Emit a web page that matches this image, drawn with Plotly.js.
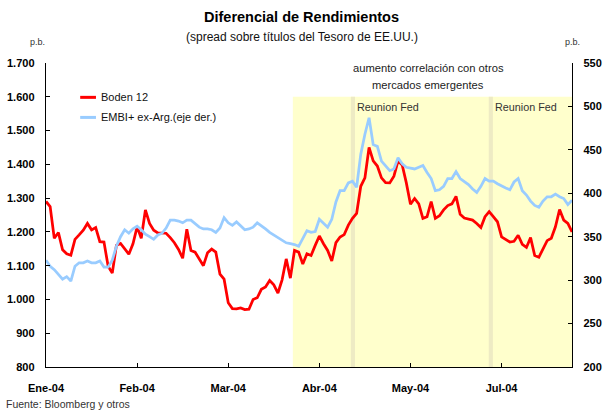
<!DOCTYPE html>
<html>
<head>
<meta charset="utf-8">
<script src="https://cdn.plot.ly/plotly-3.0.1.min.js"></script>
<style>html,body{margin:0;padding:0;background:#fff;}#chart{width:603px;height:412px;}</style>
</head>
<body>
<div id="chart"></div>
<script>
// Boden 12 spread (p.b., left axis), one value per trading day
const boden12 = [1290,1275,1181,1198,1147,1135,1131,1178,1191,1205,
  1225,1206,1213,1171,1170,1098,1078,1160,1166,1150,
  1134,1165,1215,1181,1265,1225,1205,1197,1196,1196,
  1183,1168,1148,1122,1208,1145,1140,1120,1100,1138,
  1149,1140,1075,1060,990,973,972,975,970,971,
  1000,1005,1030,1037,1056,1043,1019,1058,1120,1063,
  1145,1140,1105,1135,1130,1160,1188,1165,1145,1114,
  1168,1185,1192,1220,1240,1255,1335,1360,1450,1410,
  1395,1360,1346,1345,1365,1410,1398,1345,1282,1299,
  1283,1240,1245,1290,1240,1248,1265,1278,1283,1305,
  1252,1241,1238,1235,1225,1213,1245,1260,1245,1230,
  1185,1178,1170,1172,1190,1163,1154,1183,1130,1125,
  1150,1174,1181,1215,1266,1235,1225,1200];
// EMBI+ ex-Argentina spread (p.b., right axis)
const embiExArg = [323,316,312,307,301,304,299,316,320,320,
  322,320,320,322,315,315,323,339,350,358,
  354,359,362,358,353,350,347,352,354,360,
  369,369,368,366,369,369,365,361,359,359,
  358,355,360,372,366,363,367,363,358,359,
  361,366,363,359,355,352,349,345,343,342,
  341,339,349,357,355,356,370,366,361,370,
  390,403,403,412,414,407,445,468,487,456,
  454,437,432,426,428,441,434,430,429,428,
  430,432,424,417,403,404,408,417,417,425,
  417,414,410,405,401,408,417,414,414,411,
  408,406,404,413,417,403,398,391,386,384,
  391,396,396,399,396,394,387,392];
const dayIndex = boden12.map((_, i) => i);
const tickPositions = [0, 22, 44, 66, 88, 110];
const tickLabels = ['Ene-04', 'Feb-04', 'Mar-04', 'Abr-04', 'May-04', 'Jul-04'];
const leftTicks = [800, 900, 1000, 1100, 1200, 1300, 1400, 1500, 1600, 1700];
const rightTicks = [200, 250, 300, 350, 400, 450, 500, 550];
// highlighted period and Fed meeting days (in trading-day index)
const highlightPeriod = [59.6, 127];
const fedMeetings = [74.1, 107.4];
const highlightTop = 1600;

const FONT = 'Liberation Sans, Arial, sans-serif';

const traces = [
  {x: dayIndex, y: boden12, type: 'scatter', mode: 'lines', name: 'Boden 12',
   line: {color: '#FF0000', width: 2.75}, yaxis: 'y', showlegend: false},
  {x: dayIndex, y: embiExArg, type: 'scatter', mode: 'lines', name: 'EMBI+ ex-Arg.(eje der.)',
   line: {color: '#99CCFF', width: 2.75}, yaxis: 'y2', showlegend: false}
];

const shapes = [
  {type: 'rect', xref: 'x', yref: 'y', x0: highlightPeriod[0], x1: highlightPeriod[1], y0: 800, y1: highlightTop,
   fillcolor: '#FFFFCC', line: {width: 0}, layer: 'below'}
];
fedMeetings.forEach(f => shapes.push({type: 'rect', xref: 'x', yref: 'y', x0: f - 0.5, x1: f + 0.5, y0: 800, y1: highlightTop,
  fillcolor: '#EEEBC4', line: {width: 0}, layer: 'below'}));
// legend samples
shapes.push({type: 'line', xref: 'paper', yref: 'paper', x0: 0.065, x1: 0.095, y0: 0.887, y1: 0.887, line: {color: '#FF0000', width: 3}});
shapes.push({type: 'line', xref: 'paper', yref: 'paper', x0: 0.065, x1: 0.095, y0: 0.821, y1: 0.821, line: {color: '#99CCFF', width: 3}});

const annotations = [
  {text: '(spread sobre títulos del Tesoro de EE.UU.)', xref: 'paper', yref: 'paper', x: 0.487, y: 1.0846, xanchor: 'center', yanchor: 'middle', showarrow: false, font: {size: 12, color: '#111', family: FONT}},
  {text: 'p.b.', xref: 'paper', yref: 'paper', x: -0.017, y: 1.07, xanchor: 'center', yanchor: 'middle', showarrow: false, font: {size: 9, color: '#333', family: FONT}},
  {text: 'p.b.', xref: 'paper', yref: 'paper', x: 1.0, y: 1.07, xanchor: 'center', yanchor: 'middle', showarrow: false, font: {size: 9, color: '#333', family: FONT}},
  {text: 'aumento correlación con otros', xref: 'paper', yref: 'paper', x: 0.727, y: 0.985, xanchor: 'center', yanchor: 'middle', showarrow: false, font: {size: 11.2, color: '#222', family: FONT}},
  {text: 'mercados emergentes', xref: 'paper', yref: 'paper', x: 0.727, y: 0.926, xanchor: 'center', yanchor: 'middle', showarrow: false, font: {size: 11.2, color: '#222', family: FONT}},
  {text: 'Reunion Fed', xref: 'x', yref: 'paper', x: fedMeetings[0] + 0.6, y: 0.855, xanchor: 'left', yanchor: 'middle', showarrow: false, font: {size: 10.8, color: '#333', family: FONT}},
  {text: 'Reunion Fed', xref: 'x', yref: 'paper', x: fedMeetings[1] + 0.6, y: 0.855, xanchor: 'left', yanchor: 'middle', showarrow: false, font: {size: 10.8, color: '#333', family: FONT}},
  {text: 'Boden 12', xref: 'paper', yref: 'paper', x: 0.1, y: 0.887, xanchor: 'left', yanchor: 'middle', showarrow: false, font: {size: 11, color: '#111', family: FONT}},
  {text: 'EMBI+ ex-Arg.(eje der.)', xref: 'paper', yref: 'paper', x: 0.1, y: 0.821, xanchor: 'left', yanchor: 'middle', showarrow: false, font: {size: 11, color: '#111', family: FONT}},
  {text: 'Fuente: Bloomberg y otros', xref: 'paper', yref: 'paper', x: -0.079, y: -0.123, xanchor: 'left', yanchor: 'middle', showarrow: false, font: {size: 10.5, color: '#333', family: FONT}}
];

const layout = {
  width: 603, height: 412,
  margin: {l: 46, r: 31, t: 62.5, b: 44.5, pad: 0},
  paper_bgcolor: '#fff', plot_bgcolor: '#fff',
  separators: ',.',
  title: {text: '<b>Diferencial de Rendimientos</b>', x: 0.5, xref: 'container', xanchor: 'center', y: 0.958, yref: 'container', yanchor: 'middle', font: {size: 14.5, color: '#000', family: FONT}},
  xaxis: {range: [0, 127], tickmode: 'array', tickvals: tickPositions, ticktext: tickLabels,
    showline: true, linecolor: '#000', linewidth: 1.3, ticks: 'inside', ticklen: 4, tickcolor: '#000',
    showgrid: false, zeroline: false, ticklabelstandoff: 10,
    tickfont: {size: 11, family: FONT, color: '#000', weight: 'bold'}},
  yaxis: {range: [800, 1700], tickmode: 'array', tickvals: leftTicks, tickformat: ',d',
    showline: true, linecolor: '#000', linewidth: 1.3, ticks: 'inside', ticklen: 4, tickcolor: '#000',
    showgrid: false, zeroline: false, ticklabelstandoff: 8,
    tickfont: {size: 11, family: FONT, color: '#000', weight: 'bold'}},
  yaxis2: {range: [200, 550], tickmode: 'array', tickvals: rightTicks, overlaying: 'y', side: 'right',
    showline: true, linecolor: '#000', linewidth: 1.3, ticks: 'inside', ticklen: 4, tickcolor: '#000',
    showgrid: false, zeroline: false, ticklabelstandoff: 8,
    tickfont: {size: 11, family: FONT, color: '#000', weight: 'bold'}},
  shapes: shapes,
  annotations: annotations,
  showlegend: false
};

Plotly.newPlot('chart', traces, layout, {staticPlot: true, displayModeBar: false});
</script>
</body>
</html>
